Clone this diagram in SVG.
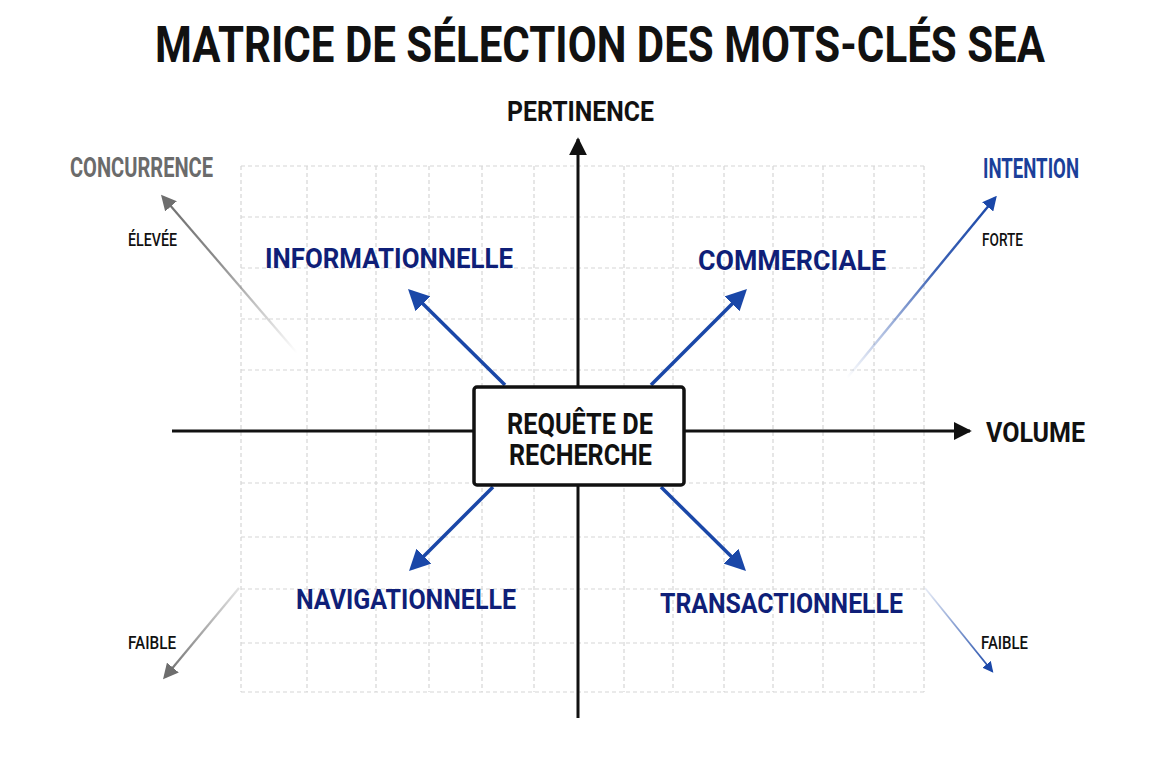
<svg xmlns="http://www.w3.org/2000/svg" width="1152" height="768" viewBox="0 0 1152 768">
<style>
text{font-family:Roboto,"Liberation Sans",sans-serif;font-weight:700}
.grid line{stroke:#d6d6d6;stroke-width:1.2;stroke-dasharray:4 3}
.axis{stroke:#111;stroke-width:3;fill:none}
.blue{stroke:#1a47a8;stroke-width:3.5;fill:none}
.cat{fill:#0f1f78;font-size:28px}
.small{fill:#111;font-size:18px;font-weight:500}
</style>
<defs>
<marker id="ah" viewBox="0 0 10 10" refX="9" refY="5" markerWidth="6" markerHeight="6" markerUnits="strokeWidth" orient="auto"><path d="M0,0L10,5L0,10z" fill="#111"/></marker>
<marker id="bh" viewBox="0 0 10 10" refX="8" refY="5" markerWidth="6" markerHeight="6" markerUnits="strokeWidth" orient="auto"><path d="M0,0L10,5L0,10z" fill="#1a47a8"/></marker>
<marker id="gh" viewBox="0 0 10 10" refX="8" refY="5" markerWidth="7" markerHeight="7" markerUnits="strokeWidth" orient="auto"><path d="M0,0L10,5L0,10z" fill="#6e6e6e"/></marker>
<marker id="bh2" viewBox="0 0 10 10" refX="8" refY="5" markerWidth="6" markerHeight="6" markerUnits="strokeWidth" orient="auto"><path d="M0,0L10,5L0,10z" fill="#1a47a8"/></marker>
<linearGradient id="g1" gradientUnits="userSpaceOnUse" x1="297" y1="353" x2="163" y2="197"><stop offset="0" stop-color="#6e6e6e" stop-opacity="0"/><stop offset="0.6" stop-color="#6e6e6e" stop-opacity="0.8"/><stop offset="1" stop-color="#6e6e6e"/></linearGradient>
<linearGradient id="g2" gradientUnits="userSpaceOnUse" x1="847" y1="378" x2="995" y2="198"><stop offset="0" stop-color="#1a47a8" stop-opacity="0"/><stop offset="0.6" stop-color="#1a47a8" stop-opacity="0.85"/><stop offset="1" stop-color="#1a47a8"/></linearGradient>
<linearGradient id="g3" gradientUnits="userSpaceOnUse" x1="239" y1="588" x2="165" y2="677"><stop offset="0" stop-color="#6e6e6e" stop-opacity="0.2"/><stop offset="1" stop-color="#6e6e6e"/></linearGradient>
<linearGradient id="g4" gradientUnits="userSpaceOnUse" x1="925" y1="588" x2="992" y2="671"><stop offset="0" stop-color="#1a47a8" stop-opacity="0.1"/><stop offset="1" stop-color="#1a47a8"/></linearGradient>
</defs>
<rect width="1152" height="768" fill="#fff"/>
<g id="grid" class="grid">
<line x1="241" y1="166" x2="241" y2="692"/><line x1="307" y1="166" x2="307" y2="692"/><line x1="376" y1="166" x2="376" y2="692"/><line x1="429" y1="166" x2="429" y2="692"/><line x1="482" y1="166" x2="482" y2="692"/><line x1="534" y1="166" x2="534" y2="692"/><line x1="624" y1="166" x2="624" y2="692"/><line x1="673" y1="166" x2="673" y2="692"/><line x1="724" y1="166" x2="724" y2="692"/><line x1="773" y1="166" x2="773" y2="692"/><line x1="823" y1="166" x2="823" y2="692"/><line x1="874" y1="166" x2="874" y2="692"/><line x1="924" y1="166" x2="924" y2="692"/>
<line x1="241" y1="166" x2="924" y2="166"/><line x1="241" y1="217" x2="924" y2="217"/><line x1="241" y1="268" x2="924" y2="268"/><line x1="241" y1="319" x2="924" y2="319"/><line x1="241" y1="370" x2="924" y2="370"/><line x1="241" y1="483" x2="924" y2="483"/><line x1="241" y1="537" x2="924" y2="537"/><line x1="241" y1="589" x2="924" y2="589"/><line x1="241" y1="643" x2="924" y2="643"/><line x1="241" y1="692" x2="924" y2="692"/>
</g>
<text id="title" transform="translate(600,62) scale(1,1.12)" x="0" y="0" text-anchor="middle" font-size="44" font-weight="900" fill="#111" textLength="890" lengthAdjust="spacingAndGlyphs">MATRICE DE SÉLECTION DES MOTS-CLÉS SEA</text>
<g id="connectors">
<line class="axis" x1="172" y1="431" x2="970" y2="431" marker-end="url(#ah)"/>
<line class="axis" x1="578" y1="718" x2="578" y2="139" marker-end="url(#ah)"/>
<line class="blue" x1="505" y1="385" x2="411" y2="292" marker-end="url(#bh)"/>
<line class="blue" x1="651" y1="385" x2="744" y2="292" marker-end="url(#bh)"/>
<line class="blue" x1="493" y1="487" x2="412" y2="568" marker-end="url(#bh)"/>
<line class="blue" x1="661" y1="487" x2="743" y2="568" marker-end="url(#bh)"/>
<line x1="297" y1="353" x2="163" y2="197" stroke="url(#g1)" stroke-width="2.2" marker-end="url(#gh)"/>
<line x1="847" y1="378" x2="995" y2="198" stroke="url(#g2)" stroke-width="2.4" marker-end="url(#bh2)"/>
<line x1="239" y1="588" x2="165" y2="677" stroke="url(#g3)" stroke-width="2.2" marker-end="url(#gh)"/>
<line x1="925" y1="588" x2="992" y2="671" stroke="url(#g4)" stroke-width="1.8" marker-end="url(#bh2)"/>
</g>
<g id="center">
<rect x="474" y="387" width="210" height="98" rx="3" fill="#fff" stroke="#111" stroke-width="3.5"/>
<text x="507" y="434" font-size="29" fill="#111" textLength="146" lengthAdjust="spacingAndGlyphs">REQUÊTE DE</text>
<text x="509" y="465" font-size="29" fill="#111" textLength="143" lengthAdjust="spacingAndGlyphs">RECHERCHE</text>
</g>
<g id="axis-labels">
<text x="507" y="121" font-size="28" fill="#111" textLength="147" lengthAdjust="spacingAndGlyphs">PERTINENCE</text>
<text x="986" y="442" font-size="28" fill="#111" textLength="99" lengthAdjust="spacingAndGlyphs">VOLUME</text>
<text x="70" y="177" font-size="27" fill="#6b6b6b" textLength="143" lengthAdjust="spacingAndGlyphs">CONCURRENCE</text>
<text x="983" y="178" font-size="27" fill="#1b3f9a" textLength="96" lengthAdjust="spacingAndGlyphs">INTENTION</text>
<text class="small" x="128" y="246" textLength="49" lengthAdjust="spacingAndGlyphs">ÉLEVÉE</text>
<text class="small" x="982" y="246" textLength="41" lengthAdjust="spacingAndGlyphs">FORTE</text>
<text class="small" x="128" y="649" textLength="48" lengthAdjust="spacingAndGlyphs">FAIBLE</text>
<text class="small" x="981" y="649" textLength="47" lengthAdjust="spacingAndGlyphs">FAIBLE</text>
</g>
<g id="informationnelle"><text class="cat" x="265" y="268" textLength="248" lengthAdjust="spacingAndGlyphs">INFORMATIONNELLE</text></g>
<g id="commerciale"><text class="cat" x="698" y="270" textLength="188" lengthAdjust="spacingAndGlyphs">COMMERCIALE</text></g>
<g id="navigationnelle"><text class="cat" x="296" y="609" textLength="220" lengthAdjust="spacingAndGlyphs">NAVIGATIONNELLE</text></g>
<g id="transactionnelle"><text class="cat" x="660" y="613" textLength="243" lengthAdjust="spacingAndGlyphs">TRANSACTIONNELLE</text></g>
</svg>
